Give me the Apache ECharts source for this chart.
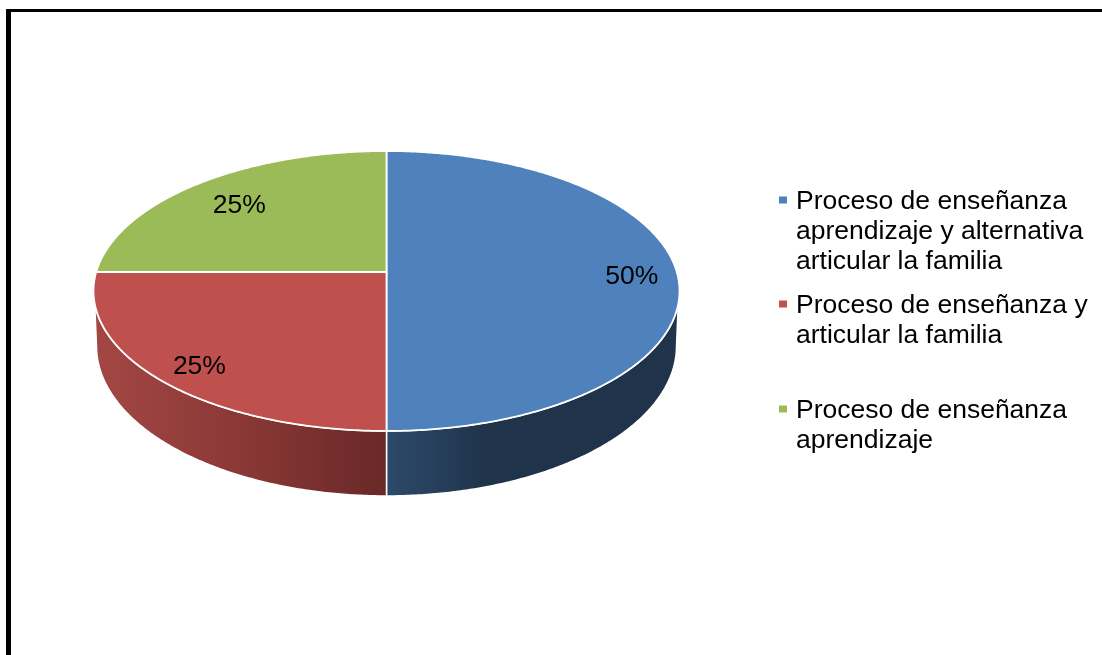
<!DOCTYPE html>
<html>
<head>
<meta charset="utf-8">
<style>html,body{margin:0;padding:0;background:#fff}#c{width:1102px;height:655px}</style>
<script src="https://cdn.jsdelivr.net/npm/echarts@6/dist/echarts.min.js"></script>
</head>
<body>
<div id="c"></div>
<script>
// Data
const categories = [
  'Proceso de enseñanza aprendizaje y alternativa articular la familia',
  'Proceso de enseñanza y articular la familia',
  'Proceso de enseñanza aprendizaje'
];
const values = [50, 25, 25];
const legendLines = [
  ['Proceso de enseñanza', 'aprendizaje y alternativa', 'articular la familia'],
  ['Proceso de enseñanza y', 'articular la familia'],
  ['Proceso de enseñanza', 'aprendizaje']
];
const topColors = ['#4f81bd', '#bf504d', '#9bbb59'];

// Drawing styles and layout
const wallStops = [
  [[0, '#2d4a6a'], [0.35, '#1f334b'], [1, '#1f334b']],
  [[0, '#a34744'], [0.5, '#8a3836'], [1, '#692827']],
  null
];
const legendTops = [188, 292, 397];
const labelRadius = [0.845, 0.824, 0.786];
const labelDy = [5, 6.5, 3];
const FONT = '"Liberation Sans", Arial, sans-serif';

// Perspective disc: centre of the pie sits above the centre of the ellipse
const CX = 386.5, PY = 272, K = 0.1357, A = 137.4, B = 290.3;
const ELL_CY = 291, RX = 293, RY = 140;
const BOT_CY = 346, BOT_RX = 290, BOT_RY = 150;
const TOP_CLIP = 103, BOT_CLIP = 97.8; // degrees where the wall becomes visible

const total = values.reduce((a, b) => a + b, 0);
const rad = d => d * Math.PI / 180;
function disc(deg, r) {
  const c = Math.cos(rad(deg)), s = Math.sin(rad(deg)), w = 1 + K * c;
  return [CX + r * B * s / w, PY - r * A * c / w];
}
function lower(p) {
  return [CX + (p[0] - CX) * BOT_RX / RX, BOT_CY + (p[1] - ELL_CY) * BOT_RY / RY];
}
function arc(a0, a1, fn) {
  const pts = [], n = Math.max(2, Math.ceil(Math.abs(a1 - a0) * 2));
  for (let i = 0; i <= n; i++) pts.push(fn(a0 + (a1 - a0) * i / n));
  return pts;
}

function renderSlice(idx) {
  return function (params, api) {
    const before = values.slice(0, idx).reduce((a, b) => a + b, 0);
    const a0 = before / total * 360;
    const a1 = a0 + api.value(0) / total * 360;
    const pts = [[CX, PY]].concat(arc(a0, a1, d => disc(d, 1)));
    const children = [];
    if (wallStops[idx]) {
      const tp = arc(Math.max(a0, TOP_CLIP), Math.min(a1, 360 - TOP_CLIP), d => disc(d, 1));
      const bt = arc(Math.min(a1, 360 - BOT_CLIP), Math.max(a0, BOT_CLIP), d => lower(disc(d, 1)));
      children.push({
        type: 'polygon', z2: 1,
        shape: { points: tp.concat(bt) },
        style: {
          fill: { type: 'linear', x: 0, y: 0, x2: 1, y2: 0, global: false,
            colorStops: wallStops[idx].map(s => ({ offset: s[0], color: s[1] })) },
          stroke: '#fff', lineWidth: 1.5
        }
      });
    }
    children.push({
      type: 'polygon', z2: 5,
      shape: { points: pts },
      style: { fill: topColors[idx], stroke: '#fff', lineWidth: 1.8, lineJoin: 'round' }
    });
    const m = disc((a0 + a1) / 2, labelRadius[idx]);
    children.push({
      type: 'text', z2: 10,
      x: m[0], y: m[1] + labelDy[idx],
      style: {
        text: Math.round(api.value(0) / total * 100) + '%',
        fill: '#000', font: '26.5px ' + FONT,
        textAlign: 'center', textVerticalAlign: 'middle'
      }
    });
    return { type: 'group', children: children };
  };
}

const chart = echarts.init(document.getElementById('c'), null, { renderer: 'canvas', width: 1102, height: 655 });
chart.setOption({
  animation: false,
  backgroundColor: '#fff',
  color: topColors,
  graphic: [
    { type: 'rect', shape: { x: 6, y: 9, width: 1096, height: 3 }, style: { fill: '#000' }, silent: true },
    { type: 'rect', shape: { x: 6, y: 9, width: 5, height: 646 }, style: { fill: '#000' }, silent: true }
  ],
  legend: categories.map((name, i) => ({
    data: [name],
    orient: 'vertical',
    left: 774,
    top: legendTops[i],
    padding: 0,
    itemWidth: 0,
    itemHeight: 0,
    icon: 'rect',
    selectedMode: false,
    formatter: function () {
      return legendLines[i].map((t, j) =>
        (j === 0 ? '{m|}{g|}' : '{i|}') + '{t|' + t + '}').join('\n');
    },
    textStyle: {
      rich: {
        m: { width: 8, height: 7, lineHeight: 30, backgroundColor: topColors[i] },
        g: { width: 9, height: 7, lineHeight: 30 },
        i: { width: 17, height: 7, lineHeight: 30 },
        t: { fontFamily: FONT, fontSize: 26.5, color: '#000', lineHeight: 30, verticalAlign: 'bottom' }
      }
    }
  })),
  series: categories.map((name, i) => ({
    type: 'custom',
    name: name,
    coordinateSystem: 'none',
    silent: true,
    data: [[values[i]]],
    renderItem: renderSlice(i)
  }))
});
</script>
</body>
</html>
